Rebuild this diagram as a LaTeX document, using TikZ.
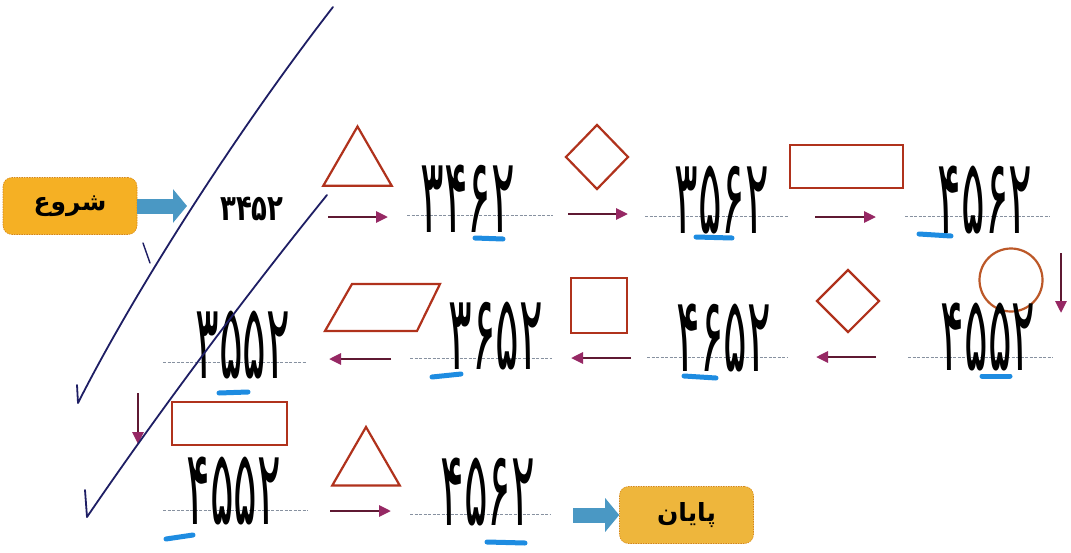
\documentclass[tikz,border=0pt]{standalone}
\usepackage{fontspec}
\usetikzlibrary{arrows.meta,shapes.geometric}
\TeXXeTstate=1
\newfontfamily\arabicfont[Script=Arabic]{DejaVu Sans}
\newfontfamily\handfont[Script=Arabic,FakeStretch=0.42]{DejaVu Sans}
\newfontfamily\printfont[Script=Arabic,FakeStretch=0.72]{DejaVu Sans}
\definecolor{shapecol}{RGB}{176,50,28}
\definecolor{circcol}{RGB}{188,88,40}
\definecolor{shaftcol}{RGB}{95,25,50}
\definecolor{tipcol}{RGB}{150,40,100}
\definecolor{fatblue}{RGB}{74,152,196}
\definecolor{goldfill}{RGB}{245,176,36}
\definecolor{goldfilltwo}{RGB}{238,182,60}
\definecolor{goldline}{RGB}{215,135,20}
\definecolor{pencol}{RGB}{30,30,100}
\definecolor{hlcol}{RGB}{30,140,225}
\definecolor{dashcol}{RGB}{135,145,160}
\begin{document}
\begin{tikzpicture}[x=1pt,y=-1pt,
  termbox/.style={draw=goldline,line width=0.6pt,dash pattern=on 1.5pt off 1pt,
    rounded corners=9pt,minimum width=134pt,minimum height=57pt,inner sep=0pt,
    font=\arabicfont\bfseries\fontsize{25}{28}\selectfont},
  fat/.style={draw=fatblue,line width=15pt,-{Triangle[length=14pt,width=33pt,color=fatblue]}},
  shp/.style={draw=shapecol,line width=2.2pt,inner sep=0pt},
  flow/.style={draw=shaftcol,line width=2.8pt,-{Triangle[length=12pt,width=11pt,color=tipcol]}},
  hw/.style={anchor=base,inner sep=0pt,text height=68pt,text depth=0pt,font=\handfont\fontsize{105}{105}\selectfont},
  printed/.style={anchor=base,inner sep=0pt,font=\printfont\bfseries\fontsize{36}{36}\selectfont},
  baseln/.style={draw=dashcol,line width=1pt,dash pattern=on 3pt off 1.5pt},
  hl/.style={draw=hlcol,line width=5pt,line cap=round},
  pen/.style={draw=pencol,line width=1.8pt,line cap=round,line join=round}]
\path[use as bounding box,fill=white] (0,0) rectangle (1071,552);

% start / end
\node[termbox,fill=goldfill] (start) at (70,206) {\beginR شروع\endR};
\node[printed] (n0) at (252,220) {۳۴۵۲};
\coordinate (b1e) at (187,206);
\draw[fat] (start.east) -- (b1e);

% shapes
\node[shp,regular polygon,regular polygon sides=3,minimum size=79pt] (t1) at (357.5,166) {};
\node[shp,diamond,minimum width=63pt,minimum height=65pt] (d1) at (597,157) {};
\node[shp,rectangle,minimum width=113pt,minimum height=43pt] (r1) at (846.5,166.5) {};
\node[shp,circle,draw=circcol,minimum size=63pt] (c1) at (1011,280) {};
\node[shp,diamond,minimum width=63pt,minimum height=63pt] (d2) at (848,301) {};
\node[shp,rectangle,minimum width=56pt,minimum height=55pt] (s1) at (599,305.5) {};
\draw[shp,line join=miter] (352,284) -- (440,284) -- (417,331) -- (325,331) -- cycle;
\node[shp,rectangle,minimum width=115pt,minimum height=43pt] (r2) at (229.5,423.5) {};
\node[shp,regular polygon,regular polygon sides=3,minimum size=78pt] (t2) at (366,466) {};

% small arrows
\coordinate (a1s) at (328,217); \coordinate (a1e) at (388,217);
\coordinate (a2s) at (568,214); \coordinate (a2e) at (628,214);
\coordinate (a3s) at (815,217); \coordinate (a3e) at (876,217);
\coordinate (a4s) at (1061,253); \coordinate (a4e) at (1061,313);
\coordinate (a5s) at (876,357); \coordinate (a5e) at (816,357);
\coordinate (a6s) at (631,358); \coordinate (a6e) at (571,358);
\coordinate (a7s) at (391,359); \coordinate (a7e) at (329,359);
\coordinate (a8s) at (138,393); \coordinate (a8e) at (138,444);
\coordinate (a9s) at (330,511); \coordinate (a9e) at (391,511);
\foreach \i in {1,...,9}{\draw[flow] (a\i s) -- (a\i e);}

% dashed base lines
\draw[baseln] (407,215) -- (553,215);
\draw[baseln] (645,216) -- (788,216);
\draw[baseln] (905,216) -- (1050,216);
\draw[baseln] (908,357) -- (1053,357);
\draw[baseln] (647,357) -- (788,357);
\draw[baseln] (410,358) -- (552,358);
\draw[baseln] (163,362) -- (307,362);
\draw[baseln] (163,510) -- (308,510);
\draw[baseln] (410,514) -- (550,514);

% blue marks
\draw[hl] (475,238) -- (503,239);
\draw[hl] (696,237) -- (732,238);
\draw[hl] (919,234) -- (951,236);
\draw[hl] (982,376) -- (1010,376);
\draw[hl] (684,376) -- (716,378);
\draw[hl] (432,377) -- (461,374);
\draw[hl] (219,393) -- (248,392);
\draw[hl] (166,539) -- (193,535);
\draw[hl] (487,542) -- (525,543);

% handwritten numbers
\node[hw] (h1) at (468,232) {۳۴۶۲};
\node[hw] (h2) at (722,233) {۳۵۶۲};
\node[hw] (h3) at (985,233) {۴۵۶۲};
\node[hw] (h4) at (988,370) {۴۵۵۲};
\node[hw] (h5) at (724,371) {۴۶۵۲};
\node[hw] (h6) at (496,369) {۳۶۵۲};
\node[hw] (h7) at (243,378) {۳۵۵۲};
\node[hw] (h8) at (234,524) {۴۵۵۲};
\node[hw] (h9) at (488,525) {۴۵۶۲};

% end
\node[termbox,fill=goldfilltwo] (stop) at (686.5,515) {\beginR پایان\endR};
\coordinate (b2s) at (573,515);
\draw[fat] (b2s) -- (stop.west);

% pen strokes
\draw[pen] (333,7) .. controls (230,140) and (130,300) .. (78,403) -- (77,385);
\draw[pen] (327,195) .. controls (250,290) and (160,410) .. (87,517) -- (85,490);
\draw[pen,line width=1.4pt] (143,243) -- (150,263);
\end{tikzpicture}
\end{document}
